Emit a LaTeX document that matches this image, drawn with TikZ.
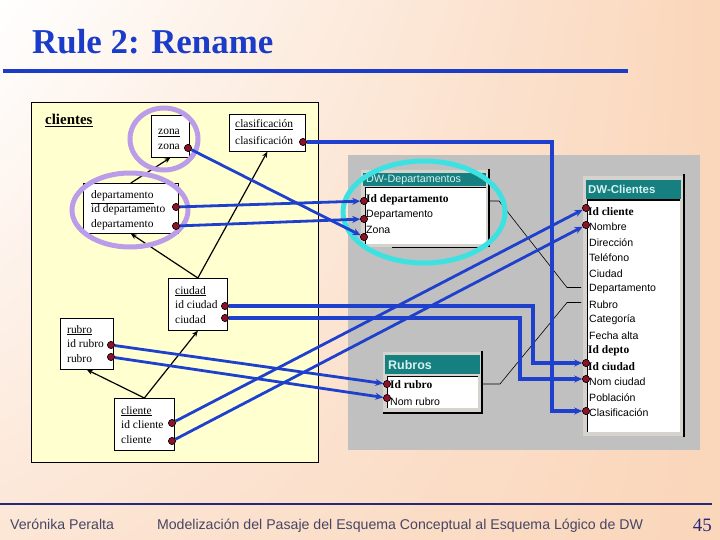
\documentclass[tikz,border=0pt]{standalone}
\usepackage{fontspec}
\setmainfont{Liberation Serif}
\setsansfont{Liberation Sans}
\usetikzlibrary{arrows.meta,calc,shadings}
\definecolor{titleblue}{RGB}{26,60,200}
\definecolor{connblue}{RGB}{30,64,204}
\definecolor{peach}{RGB}{250,214,186}
\definecolor{peachL}{RGB}{252,230,214}
\definecolor{panelyellow}{RGB}{255,255,208}
\definecolor{panelgray}{RGB}{192,192,192}
\definecolor{framegray}{RGB}{214,211,206}
\definecolor{tealbar}{RGB}{22,128,128}
\definecolor{titlelight}{RGB}{215,240,240}
\definecolor{dotred}{RGB}{140,20,40}
\definecolor{lavender}{RGB}{186,156,232}
\definecolor{cyanring}{RGB}{60,226,226}
\definecolor{footline}{RGB}{40,40,120}
\definecolor{foottext}{RGB}{70,70,100}
\begin{document}
\begin{tikzpicture}[x=1bp,y=-1bp,
  dot/.style={circle, draw=black, line width=0.5bp, fill=dotred, inner sep=0pt, minimum size=7bp},
  lbox/.style={draw=black, line width=0.7bp, fill=white, inner sep=0pt, anchor=north west},
  ltext/.style={font=\fontsize{11.5}{12}\selectfont, anchor=base west, inner sep=0pt},
  rtext/.style={font=\sffamily\fontsize{10.6}{12}\selectfont, anchor=west, inner sep=0pt},
  rbold/.style={font=\fontsize{11.5}{12}\selectfont\bfseries, anchor=west, inner sep=0pt},
  blk/.style={draw=black, line width=1.2bp, -{Stealth[length=6bp,width=5bp]}},
  bconn/.style={draw=connblue, line width=2.8bp, -{Stealth[length=8bp,width=7bp]}},
  bconnT/.style={bconn, line width=3.6bp},
  rel/.style={draw=black, line width=0.6bp},
  frame/.style={fill=framegray},
]
\useasboundingbox (0,0) rectangle (720,540);
% background
\shade[upper left=white, upper right=peach, lower left=peachL, lower right=peach] (0,0) rectangle (720,540);

% title
\node[anchor=base west, inner sep=0, text=titleblue, font=\fontsize{35}{36}\selectfont\bfseries] (title) at (32,54) {Rule 2: Rename};
\draw[titleblue, line width=4.5bp] (3,71) -- (628,71);

% footer
\draw[footline, line width=2.5bp] (0,504) -- (712,504);
\node[anchor=base west, inner sep=0, text=foottext, font=\sffamily\fontsize{14.2}{15}\selectfont] (author) at (10,529) {Verónika Peralta};
\node[anchor=base, inner sep=0, text=foottext, font=\sffamily\fontsize{14.2}{15}\selectfont] (ftitle) at (400,529) {Modelización del Pasaje del Esquema Conceptual al Esquema Lógico de DW};
\node[anchor=base east, inner sep=0, text=footline, font=\fontsize{19}{20}\selectfont] (pnum) at (712,531) {45};

% left panel
\filldraw[fill=panelyellow, draw=black, line width=0.7bp] (31,102) rectangle (318,462);
\node[anchor=base west, inner sep=0, font=\fontsize{15}{16}\selectfont\bfseries] (clientes) at (45,125) {\underline{clientes}};

% right gray panel
\fill[panelgray] (348,155) rectangle (700,450);

% DW-Departamentos window
\fill[frame] (361,170) rectangle (489,247);
\fill[tealbar] (363,173) rectangle (486,186);
\fill[white] (365,187) rectangle (486,244);
\draw[black, line width=0.8bp] (365,244) -- (365,187) -- (486,187);
\draw[black, line width=1.2bp] (489,169) -- (489,247);
\draw[black, line width=1.2bp] (392,247.5) -- (486,247.5);
\node[anchor=west, inner sep=0, text=titlelight, font=\sffamily\fontsize{10.8}{12}\selectfont] (dwdepT) at (366,180) {DW-Departamentos};
\node[rbold] at (366,200) {Id departamento};
\node[rtext] at (366,215) {Departamento};
\node[rtext] at (366,230) {Zona};

% Rubros window
\fill[frame] (383,352) rectangle (482,413);
\fill[tealbar] (385,355) rectangle (480,374);
\fill[white] (387,376) rectangle (478,408);
\draw[black, line width=0.8bp] (387,408) -- (387,376) -- (478,376);
\draw[black, line width=1.2bp] (482,351) -- (482,413) -- (383,413);
\node[anchor=west, inner sep=0, text=titlelight, font=\sffamily\bfseries\fontsize{12.5}{13}\selectfont] (rubT) at (388,365) {Rubros};
\node[rbold] at (390,385) {Id rubro};
\node[rtext] at (390,402) {Nom rubro};

% DW-Clientes window
\fill[frame] (583,176) rectangle (684,436);
\fill[tealbar] (586,180) rectangle (681,199);
\fill[white] (587,200) rectangle (680,432);
\draw[black, line width=1.6bp] (587.5,432) -- (587.5,200) -- (680,200);
\draw[black, line width=1.2bp] (684,174) -- (684,437);
\node[anchor=west, inner sep=0, text=titlelight, font=\sffamily\bfseries\fontsize{11.5}{12}\selectfont] (dwcliT) at (588,189) {DW-Clientes};
\node[rbold] at (588,211.5) {Id cliente};
\node[rtext] at (589,227) {Nombre};
\node[rtext] at (589,242.5) {Dirección};
\node[rtext] at (589,258) {Teléfono};
\node[rtext] at (589,273.5) {Ciudad};
\node[rtext] at (589,289) {Departamento};
\node[rtext] at (589,304.5) {Rubro};
\node[rtext] at (589,320) {Categoría};
\node[rtext] at (589,335.5) {Fecha alta};
\node[rbold] at (588,351) {Id depto};
\node[rbold] at (588,366.5) {Id ciudad};
\node[rtext] at (589,382) {Nom ciudad};
\node[rtext] at (589,397.5) {Población};
\node[rtext] at (589,413) {Clasificación};

% relationship lines in gray panel
\draw[rel] (489,201) -- (499,201) -- (567,287.5) -- (581,287.5);
\draw[rel] (482,384) -- (500,384) -- (567,302.5) -- (581,302.5);

% left boxes
\node[lbox, minimum width=38bp, minimum height=42bp] (zonaB) at (151,115) {};
\node[ltext] at (158,135) {\underline{zona}};
\node[ltext] at (158,150) {zona};
\node[lbox, minimum width=76bp, minimum height=37bp] (clasB) at (229,114) {};
\node[ltext] at (235,128) {\underline{clasificación}};
\node[ltext] at (235,145) {clasificación};
\node[lbox, minimum width=95bp, minimum height=50bp] (deptoB) at (83,183) {};
\node[ltext] at (91,199) {\underline{departamento}};
\node[ltext] at (91,213) {id departamento};
\node[ltext] at (91,228) {departamento};
\node[lbox, minimum width=59bp, minimum height=52bp] (ciudadB) at (168,278) {};
\node[ltext] at (175,294) {\underline{ciudad}};
\node[ltext] at (175,308) {id ciudad};
\node[ltext] at (175,323) {ciudad};
\node[lbox, minimum width=53bp, minimum height=51bp] (rubroB) at (60,318) {};
\node[ltext] at (67,333) {\underline{rubro}};
\node[ltext] at (67,347) {id rubro};
\node[ltext] at (67,362) {rubro};
\node[lbox, minimum width=60bp, minimum height=52bp] (clienteB) at (114,398) {};
\node[ltext] at (121,414) {\underline{cliente}};
\node[ltext] at (121,428) {id cliente};
\node[ltext] at (121,443) {cliente};

% black hierarchy arrows
\draw[blk] (deptoB.north) -- (zonaB.south);
\draw[blk] (ciudadB.north) -- (deptoB.south);
\draw[blk] (ciudadB.north) -- (clasB.south);
\draw[blk] (clienteB.north) -- (rubroB.south);
\draw[blk] (clienteB.north) -- (ciudadB.south);

% highlight rings
\draw[lavender, line width=5bp] (164,139) ellipse [x radius=34, y radius=31];
\draw[lavender, line width=5bp] (130,210) ellipse [x radius=58, y radius=37];
\draw[cyanring, line width=5bp] (424,212) ellipse [x radius=81, y radius=51];

% connector end points
\node[dot] (pZona) at (188,148) {};
\node[dot] (pClas) at (303,142) {};
\node[dot] (pIdDep) at (176,207) {};
\node[dot] (pDep) at (176,226) {};
\node[dot] (pIdCiu) at (225,306) {};
\node[dot] (pCiu) at (225,318) {};
\node[dot] (pIdRub) at (111,345) {};
\node[dot] (pRub) at (111,357) {};
\node[dot] (pIdCli) at (172,423) {};
\node[dot] (pCli) at (172,441) {};
\node[dot] (dIdDep) at (364,201) {};
\node[dot] (dDep) at (364,219) {};
\node[dot] (dZona) at (364,237) {};
\node[dot] (rIdRub) at (387,384) {};
\node[dot] (rNomRub) at (387,398) {};
\node[dot] (cIdCli) at (586,208) {};
\node[dot] (cNombre) at (586,225) {};
\node[dot] (cIdCiu) at (586,363) {};
\node[dot] (cNomCiu) at (586,379) {};
\node[dot] (cClas) at (586,411) {};

% blue mapping connectors
\draw[bconnT] (pClas) -- (552,142) -- (552,411) -- (cClas);
\draw[bconn] (pZona) -- (dZona);
\draw[bconn] (pIdDep) -- (dIdDep);
\draw[bconn] (pDep) -- (dDep);
\draw[bconnT] (pIdCiu) -- (533,306) -- (533,363) -- (cIdCiu);
\draw[bconnT] (pCiu) -- (520,318) -- (520,379) -- (cNomCiu);
\draw[bconn] (pIdRub) -- (rIdRub);
\draw[bconn] (pRub) -- (rNomRub);
\draw[bconn] (pIdCli) -- (cIdCli);
\draw[bconn] (pCli) -- (cNombre);

% redraw dots on top
\foreach \n in {pZona,pClas,pIdDep,pDep,pIdCiu,pCiu,pIdRub,pRub,pIdCli,pCli,dIdDep,dDep,dZona,rIdRub,rNomRub,cIdCli,cNombre,cIdCiu,cNomCiu,cClas}
  \node[dot] at (\n.center) {};
\end{tikzpicture}
\end{document}
